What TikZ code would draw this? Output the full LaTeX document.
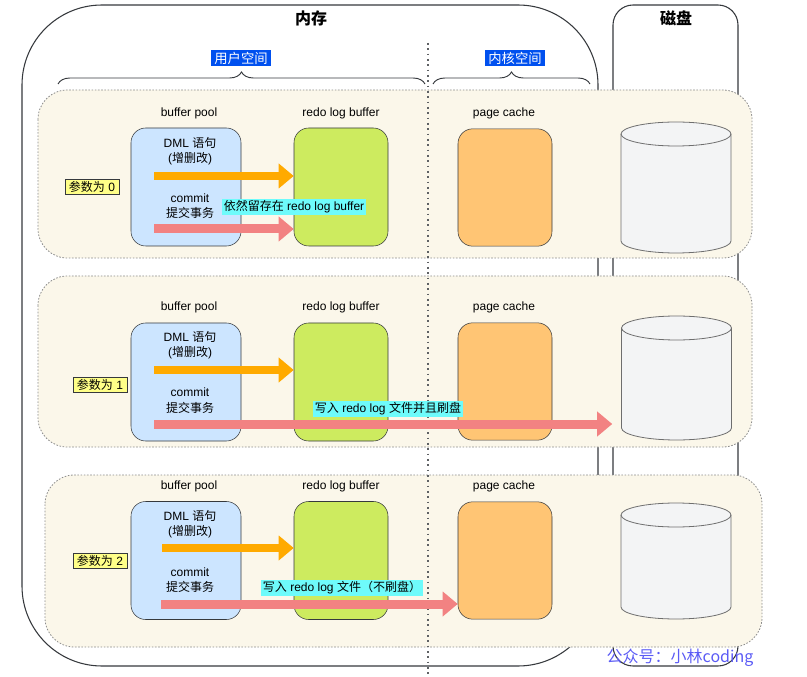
\documentclass[tikz,border=0pt]{standalone}
\usepackage{fontspec}
\setmainfont{Liberation Sans}
\newfontfamily\cjk{Noto Sans CJK SC}
\usepackage{tikz}
\usetikzlibrary{arrows.meta,positioning,shapes.geometric,decorations.pathreplacing}
\definecolor{ink}{HTML}{36393D}
\definecolor{panelbg}{HTML}{FBF7EA}
\definecolor{panelrim}{HTML}{8C8C8C}
\definecolor{bpfill}{HTML}{CCE5FF}
\definecolor{rbfill}{HTML}{CDEB5F}
\definecolor{pcfill}{HTML}{FFC574}
\definecolor{dkfill}{HTML}{F3F4F5}
\definecolor{dkrim}{HTML}{6E6E6E}
\definecolor{tagblue}{HTML}{0050EF}
\definecolor{parfill}{HTML}{FFFF88}
\definecolor{notefill}{HTML}{6EFBFB}
\definecolor{dmlorange}{HTML}{FFAA00}
\definecolor{cmred}{HTML}{F28282}
\definecolor{wmblue}{HTML}{5B5BF5}
\tikzset{
  memory/.style={draw=ink,line width=0.8pt,rounded corners=60pt},
  diskwall/.style={draw=ink,line width=0.8pt,rounded corners=15pt},
  panel/.style={draw=panelrim,fill=panelbg,line width=0.6pt,dash pattern=on 1.2pt off 1.2pt,rounded corners=22pt},
  divider/.style={draw=ink!80,line width=1.1pt,dash pattern=on 1.3pt off 2.7pt},
  span/.style={draw=ink,line width=0.7pt,decorate,decoration={brace,amplitude=9pt}},
  title/.style={font=\cjk\fontsize{12}{14}\selectfont\bfseries},
  tag/.style={fill=tagblue,text=white,font=\cjk\fontsize{10}{12}\selectfont,inner xsep=2.5pt,inner ysep=1.5pt},
  lbl/.style={font=\fontsize{9}{11.5}\selectfont,align=center,inner sep=1pt},
  bpool/.style={draw=ink,fill=bpfill,rounded corners=11pt,minimum width=82.5pt,minimum height=88.5pt},
  rlbuf/.style={draw=ink,fill=rbfill,rounded corners=11pt,minimum width=70.5pt,minimum height=88.5pt},
  pcache/.style={draw=ink,fill=pcfill,rounded corners=11pt,minimum width=70.5pt,minimum height=88pt},
  disk/.style={minimum width=84pt,minimum height=99.75pt,inner sep=0pt,
    path picture={
      \draw[draw=dkrim,fill=dkfill,line width=0.6pt]
        ([xshift=0.75pt,yshift=-9.75pt]path picture bounding box.north west)
        -- ([xshift=0.75pt,yshift=9.75pt]path picture bounding box.south west)
        arc[start angle=180,end angle=360,x radius=41.25pt,y radius=9pt]
        -- ([xshift=-0.75pt,yshift=-9.75pt]path picture bounding box.north east)
        arc[start angle=0,end angle=180,x radius=41.25pt,y radius=9pt] -- cycle;
      \draw[draw=dkrim,line width=0.6pt]
        ([xshift=0.75pt,yshift=-9.75pt]path picture bounding box.north west)
        arc[start angle=180,end angle=360,x radius=41.25pt,y radius=9pt];
    }},
  param/.style={draw=ink,fill=parfill,font=\fontsize{9}{11}\selectfont,inner xsep=3pt,inner ysep=1.5pt},
  note/.style={fill=notefill,font=\fontsize{9}{11}\selectfont,inner xsep=1.5pt,inner ysep=1.5pt},
  dmlflow/.style={draw=dmlorange,line width=6pt,-{Triangle[length=11.25pt,width=18pt]}},
  cmflow/.style={draw=cmred,line width=6.75pt,-{Triangle[length=11.25pt,width=18pt]}},
  watermark/.style={text=wmblue,font=\cjk\fontsize{12}{14}\selectfont}
}
\begin{document}
\begin{tikzpicture}[x=0.75pt,y=-0.75pt]
  \useasboundingbox (0,0) rectangle (807,677);
  % memory and disk frames
  \draw[memory] (22,5) rectangle (598,666);
  \draw[diskwall] (613,5) rectangle (738,666);
  \node[title] (memtitle) at (311,18) {内存};
  \node[title] (disktitle) at (676,18) {磁盘};
  \node[tag] (user) at (241,58) {用户空间};
  \node[tag] (kernel) at (515,58) {内核空间};
  \draw[span] (58,84) -- (425,84);
  \draw[span] (433,84) -- (590,84);
  % panels
  \draw[panel] (38,90) rectangle (752,258);
  \draw[panel] (38,276) rectangle (752,447);
  \draw[panel] (45,475) rectangle (762,647);
  \draw[divider] (428,43) -- (428,677);

  % innodb_flush_log_at_trx_commit = 0
  \node[lbl] (bpl1) at (189,113) {buffer pool};
  \node[lbl] (rbl1) at (341,113) {redo log buffer};
  \node[lbl] (pcl1) at (504,113) {page cache};
  \node[bpool] (bp1) at (186,187) {};
  \node[rlbuf] (rb1) at (341,187) {};
  \node[pcache] (pc1) at (505,187.5) {};
  \node[disk] (dk1) at (676,187.5) {};
  \node[param] (p1) at (92,187) {{\cjk 参数为} 0};
  \node[lbl] (dml1) at (190,151) {DML {\cjk 语句}\\({\cjk 增删改})};
  \node[lbl] (cm1) at (190,206) {commit\\{\cjk 提交事务}};
  \coordinate (d1) at (154,176);
  \coordinate (c1) at (154,229);
  \draw[dmlflow] (d1) -- (d1 -| rb1.west);
  \draw[cmflow] (c1) -- (c1 -| rb1.west);
  \node[note] (n1) at (294,207) {{\cjk 依然留存在} redo log buffer};

  % innodb_flush_log_at_trx_commit = 1
  \node[lbl] (bpl2) at (189,307) {buffer pool};
  \node[lbl] (rbl2) at (341,307) {redo log buffer};
  \node[lbl] (pcl2) at (504,307) {page cache};
  \node[bpool] (bp2) at (186,382) {};
  \node[rlbuf] (rb2) at (341,382) {};
  \node[pcache] (pc2) at (505,381.5) {};
  \node[disk,minimum height=94.5pt] (dk2) at (676.5,378) {};
  \node[param] (p2) at (100,385) {{\cjk 参数为} 1};
  \node[lbl] (dml2) at (190,345.5) {DML {\cjk 语句}\\({\cjk 增删改})};
  \node[lbl] (cm2) at (190,400.5) {commit\\{\cjk 提交事务}};
  \coordinate (d2) at (154,370);
  \coordinate (c2) at (154,424);
  \draw[dmlflow] (d2) -- (d2 -| rb2.west);
  \draw[cmflow,shorten >=6pt] (c2) -- (c2 -| dk2.west);
  \node[note] (n2) at (388,409) {{\cjk 写入} redo log {\cjk 文件并且刷盘}};

  % innodb_flush_log_at_trx_commit = 2
  \node[lbl] (bpl3) at (189,486) {buffer pool};
  \node[lbl] (rbl3) at (341,486) {redo log buffer};
  \node[lbl] (pcl3) at (504,486) {page cache};
  \node[bpool] (bp3) at (186,560.5) {};
  \node[rlbuf] (rb3) at (341,560.5) {};
  \node[pcache] (pc3) at (505,560.5) {};
  \node[disk,minimum height=88.5pt] (dk3) at (676,561) {};
  \node[param] (p3) at (100,561) {{\cjk 参数为} 2};
  \node[lbl] (dml3) at (190,524.5) {DML {\cjk 语句}\\({\cjk 增删改})};
  \node[lbl] (cm3) at (190,580) {commit\\{\cjk 提交事务}};
  \coordinate (d3) at (162,548);
  \coordinate (c3) at (161,604);
  \draw[dmlflow] (d3) -- (d3 -| rb3.west);
  \draw[cmflow] (c3) -- (c3 -| pc3.west);
  \node[note] (n3) at (342,588) {{\cjk 写入} redo log {\cjk 文件（不刷盘）}};

  \node[watermark] (wm) at (680,658) {公众号：小林coding};
\end{tikzpicture}
\end{document}
